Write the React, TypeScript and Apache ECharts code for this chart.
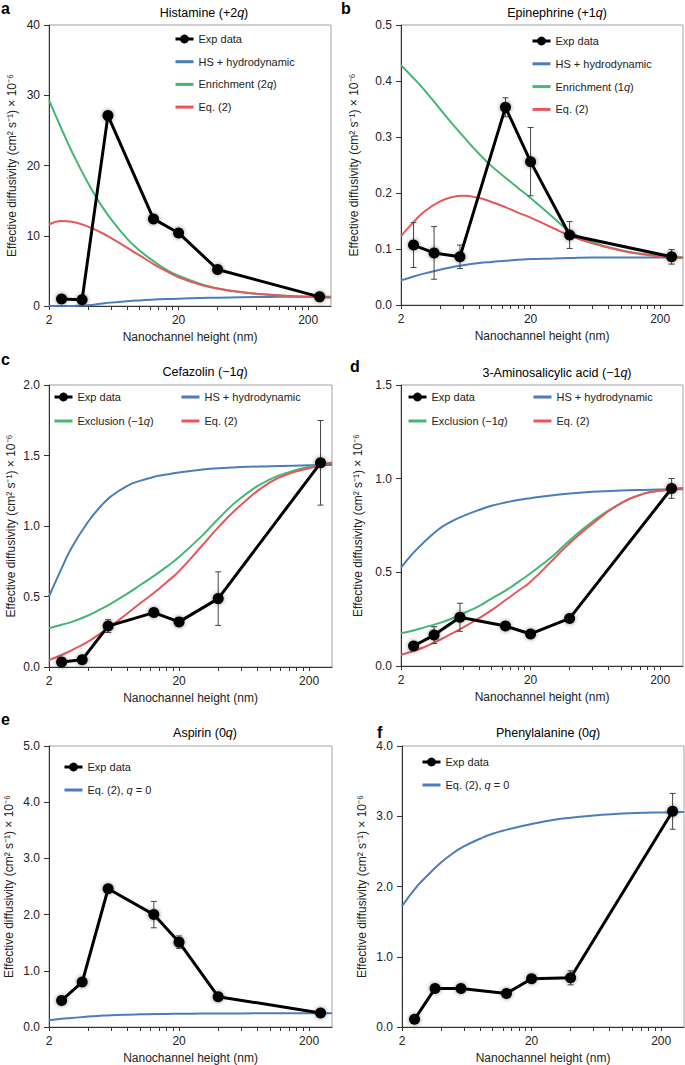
import React, { useEffect, useRef } from "react";
import * as echarts from "echarts";

const FONT = '"Liberation Sans", Arial, Helvetica, sans-serif';

// ---------- x values ----------
const curveHeights = [2, 2.5, 3, 4, 5, 6, 8, 10, 13, 16, 20, 30, 40, 60, 100, 150, 200, 300];
const expHeights = [2.5, 3.6, 5.7, 12.8, 20, 40, 245];
const xLabelValues = [2, 20, 200];
const xTickValues = [2, 4, 6, 8, 10, 12, 14, 16, 18, 20, 40, 60, 80, 100, 120, 140, 160, 180, 200];

// ---------- a: Histamine ----------
const aExp = [1.0, 0.9, 27.1, 12.4, 10.4, 5.2, 1.3];
const aErr = [0, 0, 0, 0, 0, 0, 0];
const aHS = [0, 0, 0, 0.12, 0.32, 0.48, 0.68, 0.8, 0.91, 0.98, 1.04, 1.13, 1.18, 1.24, 1.29, 1.31, 1.32, 1.33];
const aEnrich = [29.3, 25.2, 22.0, 17.5, 14.5, 12.4, 9.6, 7.9, 6.3, 5.2, 4.3, 3.1, 2.5, 2.0, 1.6, 1.4, 1.3, 1.2];
const aEq2 = [11.6, 12.1, 12.0, 11.3, 10.5, 9.7, 8.3, 7.2, 5.9, 5.0, 4.1, 3.0, 2.5, 2.0, 1.6, 1.4, 1.3, 1.2];

// ---------- b: Epinephrine ----------
const bExp = [0.107, 0.093, 0.086, 0.353, 0.256, 0.125, 0.086];
const bErr = [0.04, 0.047, 0.021, 0.017, 0.061, 0.024, 0.013];
const bHS = [0.044, 0.051, 0.056, 0.063, 0.068, 0.071, 0.075, 0.077, 0.079, 0.081, 0.082, 0.083, 0.084, 0.085, 0.085, 0.085, 0.085, 0.085];
const bEnrich = [0.428, 0.405, 0.385, 0.35, 0.323, 0.302, 0.27, 0.248, 0.226, 0.209, 0.191, 0.156, 0.132, 0.112, 0.098, 0.091, 0.088, 0.085];
const bEq2 = [0.123, 0.148, 0.166, 0.185, 0.193, 0.195, 0.191, 0.184, 0.174, 0.165, 0.156, 0.137, 0.124, 0.11, 0.097, 0.09, 0.087, 0.084];

// ---------- c: Cefazolin ----------
const cExp = [0.035, 0.052, 0.29, 0.386, 0.32, 0.485, 1.448];
const cErr = [0, 0, 0.045, 0, 0, 0.19, 0.3];
const cHS = [0.5, 0.7, 0.85, 1.03, 1.14, 1.21, 1.285, 1.32, 1.35, 1.365, 1.38, 1.4, 1.41, 1.418, 1.424, 1.428, 1.43, 1.432];
const cExcl = [0.275, 0.3, 0.32, 0.365, 0.41, 0.45, 0.52, 0.58, 0.65, 0.71, 0.78, 0.93, 1.05, 1.2, 1.33, 1.39, 1.42, 1.45];
const cEq2 = [0.05, 0.085, 0.12, 0.18, 0.24, 0.29, 0.38, 0.45, 0.53, 0.6, 0.68, 0.86, 0.99, 1.15, 1.31, 1.38, 1.41, 1.45];

// ---------- d: 3-Aminosalicylic acid ----------
const dExp = [0.107, 0.165, 0.26, 0.2135, 0.171, 0.254, 0.948];
const dErr = [0.015, 0.045, 0.075, 0, 0, 0, 0.053];
const dHS = [0.525, 0.605, 0.66, 0.735, 0.775, 0.8, 0.833, 0.855, 0.874, 0.886, 0.896, 0.912, 0.921, 0.93, 0.937, 0.94, 0.942, 0.943];
const dExcl = [0.175, 0.19, 0.205, 0.23, 0.255, 0.28, 0.32, 0.36, 0.405, 0.448, 0.495, 0.59, 0.67, 0.77, 0.87, 0.92, 0.935, 0.95];
const dEq2 = [0.06, 0.08, 0.1, 0.14, 0.175, 0.205, 0.255, 0.298, 0.355, 0.4, 0.45, 0.57, 0.655, 0.76, 0.87, 0.92, 0.935, 0.95];

// ---------- e: Aspirin ----------
const eExp = [0.473, 0.8, 2.46, 2.0, 1.51, 0.54, 0.25];
const eErr = [0, 0, 0, 0.235, 0.11, 0, 0];
const eEq2q0 = [0.12, 0.145, 0.16, 0.185, 0.2, 0.21, 0.22, 0.225, 0.23, 0.232, 0.235, 0.238, 0.24, 0.242, 0.244, 0.245, 0.245, 0.246];

// ---------- f: Phenylalanine ----------
const fExp = [0.109, 0.549, 0.549, 0.478, 0.686, 0.7, 3.07];
const fErr = [0, 0, 0, 0, 0, 0.1, 0.255];
const fEq2q0 = [1.72, 1.96, 2.12, 2.34, 2.48, 2.57, 2.68, 2.75, 2.81, 2.85, 2.89, 2.95, 2.98, 3.01, 3.04, 3.05, 3.055, 3.06];

// ---------- text ----------
const yAxisTitle = "Effective diffusivity (cm² s⁻¹) × 10⁻⁶";
const xAxisTitle = "Nanochannel height (nm)";
const EXP = "Exp data";
const HS = "HS + hydrodynamic";
const EQ2 = "Eq. (2)";
const EN2 = "Enrichment (2q)";
const EN1 = "Enrichment (1q)";
const EXCL = "Exclusion (−1q)";
const EQ0 = "Eq. (2), q = 0";

const richNames: Record<string, string> = {
  [EN2]: "{n|Enrichment (2}{i|q}{n|)}",
  [EN1]: "{n|Enrichment (1}{i|q}{n|)}",
  [EXCL]: "{n|Exclusion (−1}{i|q}{n|)}",
  [EQ0]: "{n|Eq. (2), }{i|q}{n| = 0}",
};

const BLUE = "#4a7dbb";
const GREEN = "#45b673";
const RED = "#e6575c";

const X_MIN = 2;
const X_MAX = 300;

type Curve = { name: string; data: number[]; color: string };
type Panel = {
  letter: string;
  letterPos: [number, number];
  title: string;
  titlePos: [number, number];
  grid: { left: number; top: number; width: number; height: number };
  yMax: number;
  yInt: number;
  dec: number;
  nameGap: number;
  exp: number[];
  err: number[];
  curves: Curve[];
  legends: { left: number; top: number; gap: number; data: string[] }[];
};

const panels: Panel[] = [
  {
    letter: "a", letterPos: [1, 8],
    title: "{n|Histamine (+2}{i|q}{n|)}", titlePos: [204, 13],
    grid: { left: 49, top: 25, width: 282, height: 281 },
    yMax: 40, yInt: 10, dec: 0, nameGap: 31,
    exp: aExp, err: aErr,
    curves: [
      { name: HS, data: aHS, color: BLUE },
      { name: EN2, data: aEnrich, color: GREEN },
      { name: EQ2, data: aEq2, color: RED },
    ],
    legends: [{ left: 174, top: 32.5, gap: 9.7, data: [EXP, HS, EN2, EQ2] }],
  },
  {
    letter: "b", letterPos: [341, 8],
    title: "{n|Epinephrine (+1}{i|q}{n|)}", titlePos: [557, 13],
    grid: { left: 401, top: 25, width: 282, height: 280 },
    yMax: 0.5, yInt: 0.1, dec: 1, nameGap: 41,
    exp: bExp, err: bErr,
    curves: [
      { name: HS, data: bHS, color: BLUE },
      { name: EN1, data: bEnrich, color: GREEN },
      { name: EQ2, data: bEq2, color: RED },
    ],
    legends: [{ left: 531, top: 34.5, gap: 9.8, data: [EXP, HS, EN1, EQ2] }],
  },
  {
    letter: "c", letterPos: [1, 359],
    title: "{n|Cefazolin (−1}{i|q}{n|)}", titlePos: [205, 372],
    grid: { left: 49, top: 385, width: 283, height: 282 },
    yMax: 2.0, yInt: 0.5, dec: 1, nameGap: 32,
    exp: cExp, err: cErr,
    curves: [
      { name: HS, data: cHS, color: BLUE },
      { name: EXCL, data: cExcl, color: GREEN },
      { name: EQ2, data: cEq2, color: RED },
    ],
    legends: [
      { left: 53, top: 390.5, gap: 11, data: [EXP, EXCL] },
      { left: 180, top: 390.5, gap: 11, data: [HS, EQ2] },
    ],
  },
  {
    letter: "d", letterPos: [350, 366],
    title: "{n|3-Aminosalicylic acid (−1}{i|q}{n|)}", titlePos: [557, 373],
    grid: { left: 401, top: 385, width: 282, height: 281 },
    yMax: 1.5, yInt: 0.5, dec: 1, nameGap: 37,
    exp: dExp, err: dErr,
    curves: [
      { name: HS, data: dHS, color: BLUE },
      { name: EXCL, data: dExcl, color: GREEN },
      { name: EQ2, data: dEq2, color: RED },
    ],
    legends: [
      { left: 407, top: 390.5, gap: 11, data: [EXP, EXCL] },
      { left: 532, top: 390.5, gap: 11, data: [HS, EQ2] },
    ],
  },
  {
    letter: "e", letterPos: [1, 719],
    title: "{n|Aspirin (0}{i|q}{n|)}", titlePos: [205, 733],
    grid: { left: 49, top: 746, width: 283, height: 282 },
    yMax: 5.0, yInt: 1.0, dec: 1, nameGap: 34,
    exp: eExp, err: eErr,
    curves: [{ name: EQ0, data: eEq2q0, color: BLUE }],
    legends: [{ left: 63, top: 760.5, gap: 10, data: [EXP, EQ0] }],
  },
  {
    letter: "f", letterPos: [377, 732],
    title: "{n|Phenylalanine (0}{i|q}{n|)}", titlePos: [548, 733],
    grid: { left: 402, top: 746, width: 282, height: 282 },
    yMax: 4.0, yInt: 1.0, dec: 1, nameGap: 34,
    exp: fExp, err: fErr,
    curves: [{ name: EQ0, data: fEq2q0, color: BLUE }],
    legends: [{ left: 421, top: 755.5, gap: 10, data: [EXP, EQ0] }],
  },
];

const lg = (v: number) => Math.log10(v);

function buildOption() {
  const grid: any[] = [];
  const xAxis: any[] = [];
  const yAxis: any[] = [];
  const series: any[] = [];
  const legend: any[] = [];
  const graphic: any[] = [];

  const richText = {
    n: { fontFamily: FONT, fontSize: 12.5, color: "#222" },
    i: { fontFamily: FONT, fontSize: 12.5, color: "#222", fontStyle: "italic" },
  };
  const legendRich = {
    n: { fontFamily: FONT, fontSize: 11, color: "#222" },
    i: { fontFamily: FONT, fontSize: 11, color: "#222", fontStyle: "italic" },
  };

  panels.forEach((p, i) => {
    grid.push({ ...p.grid, show: true, borderColor: "#a3a3a3", borderWidth: 1, backgroundColor: "transparent" });

    // data axis (log scale)
    xAxis.push({
      type: "log", logBase: 10, gridIndex: i, min: X_MIN, max: X_MAX, position: "top", show: false,
    });
    // tick / label axis drawn in log space
    xAxis.push({
      type: "value", gridIndex: i, position: "bottom", min: lg(X_MIN), max: lg(X_MAX),
      axisLine: { show: true, onZero: false, lineStyle: { color: "#333", width: 1 } },
      axisTick: { show: true, length: 4, customValues: xTickValues.map(lg), lineStyle: { color: "#333" } },
      axisLabel: {
        customValues: xLabelValues.map(lg), margin: 8, fontSize: 12, color: "#222", fontFamily: FONT,
        formatter: (v: number) => String(Math.round(Math.pow(10, v))),
      },
      splitLine: { show: false },
      name: xAxisTitle, nameLocation: "middle", nameGap: 25,
      nameTextStyle: { fontSize: 12, color: "#222", fontFamily: FONT },
    });
    yAxis.push({
      type: "value", gridIndex: i, min: 0, max: p.yMax, interval: p.yInt,
      axisLine: { show: true, onZero: false, lineStyle: { color: "#333", width: 1 } },
      axisTick: { show: true, length: 5, lineStyle: { color: "#333" } },
      axisLabel: {
        margin: 9, fontSize: 12, color: "#222", fontFamily: FONT,
        formatter: (v: number) => v.toFixed(p.dec),
      },
      splitLine: { show: false },
      name: yAxisTitle, nameLocation: "middle", nameGap: p.nameGap,
      nameTextStyle: { fontSize: 12, color: "#222", fontFamily: FONT },
    });

    p.curves.forEach((c) => {
      series.push({
        type: "line", name: c.name, xAxisIndex: 2 * i, yAxisIndex: i,
        data: curveHeights.map((x, k) => [x, c.data[k]]),
        symbol: "none", smooth: 0.5, silent: true, z: 2,
        lineStyle: { width: 2, color: c.color }, itemStyle: { color: c.color },
      });
    });

    series.push({
      type: "custom", xAxisIndex: 2 * i, yAxisIndex: i, z: 3, silent: true,
      data: expHeights.map((x, k) => [x, p.exp[k], p.err[k]]),
      encode: { x: 0, y: 1 },
      renderItem: (_params: any, api: any) => {
        const x = api.value(0);
        const y = api.value(1);
        const e = api.value(2);
        if (!e) return { type: "group", children: [] };
        const top = api.coord([x, y + e]);
        const bot = api.coord([x, y - e]);
        const cap = 3;
        const st = { stroke: "#444", lineWidth: 1 };
        return {
          type: "group",
          children: [
            { type: "line", shape: { x1: top[0], y1: top[1], x2: bot[0], y2: bot[1] }, style: st },
            { type: "line", shape: { x1: top[0] - cap, y1: top[1], x2: top[0] + cap, y2: top[1] }, style: st },
            { type: "line", shape: { x1: bot[0] - cap, y1: bot[1], x2: bot[0] + cap, y2: bot[1] }, style: st },
          ],
        };
      },
    });

    series.push({
      type: "line", name: EXP, xAxisIndex: 2 * i, yAxisIndex: i, z: 4, silent: true,
      data: expHeights.map((x, k) => [x, p.exp[k]]),
      symbol: "circle", symbolSize: 11,
      lineStyle: { width: 3, color: "#000" },
      itemStyle: { color: "#000", shadowBlur: 4, shadowColor: "rgba(0,0,0,0.45)" },
    });

    p.legends.forEach((l) => {
      legend.push({
        orient: "vertical", left: l.left, top: l.top, itemGap: l.gap, itemWidth: 18, itemHeight: 11,
        padding: 0, selectedMode: false,
        data: l.data.map((name) =>
          name === EXP ? { name } : { name, itemStyle: { opacity: 0 } }
        ),
        lineStyle: { width: 3 },
        textStyle: { fontFamily: FONT, fontSize: 11, color: "#222", lineHeight: 13, rich: legendRich },
        formatter: (name: string) => richNames[name] || `{n|${name}}`,
      });
    });

    graphic.push({
      type: "text", x: p.titlePos[0], y: p.titlePos[1],
      style: { text: p.title, rich: richText, align: "center", verticalAlign: "middle" },
    });
    graphic.push({
      type: "text", x: p.letterPos[0], y: p.letterPos[1],
      style: { text: p.letter, font: `bold 16px ${FONT}`, fill: "#000", align: "left", verticalAlign: "middle" },
    });
  });

  return {
    animation: false,
    backgroundColor: "#fff",
    textStyle: { fontFamily: FONT },
    grid, xAxis, yAxis, series, legend, graphic,
  };
}

export default function App() {
  const ref = useRef<HTMLDivElement>(null);
  useEffect(() => {
    if (!ref.current) return;
    const chart = echarts.init(ref.current, undefined, { renderer: "svg" });
    chart.setOption(buildOption() as any);
    return () => chart.dispose();
  }, []);
  return (
    <div
      ref={ref}
      style={{ position: "absolute", left: 0, top: 0, width: 685, height: 1065, background: "#fff" }}
    />
  );
}
